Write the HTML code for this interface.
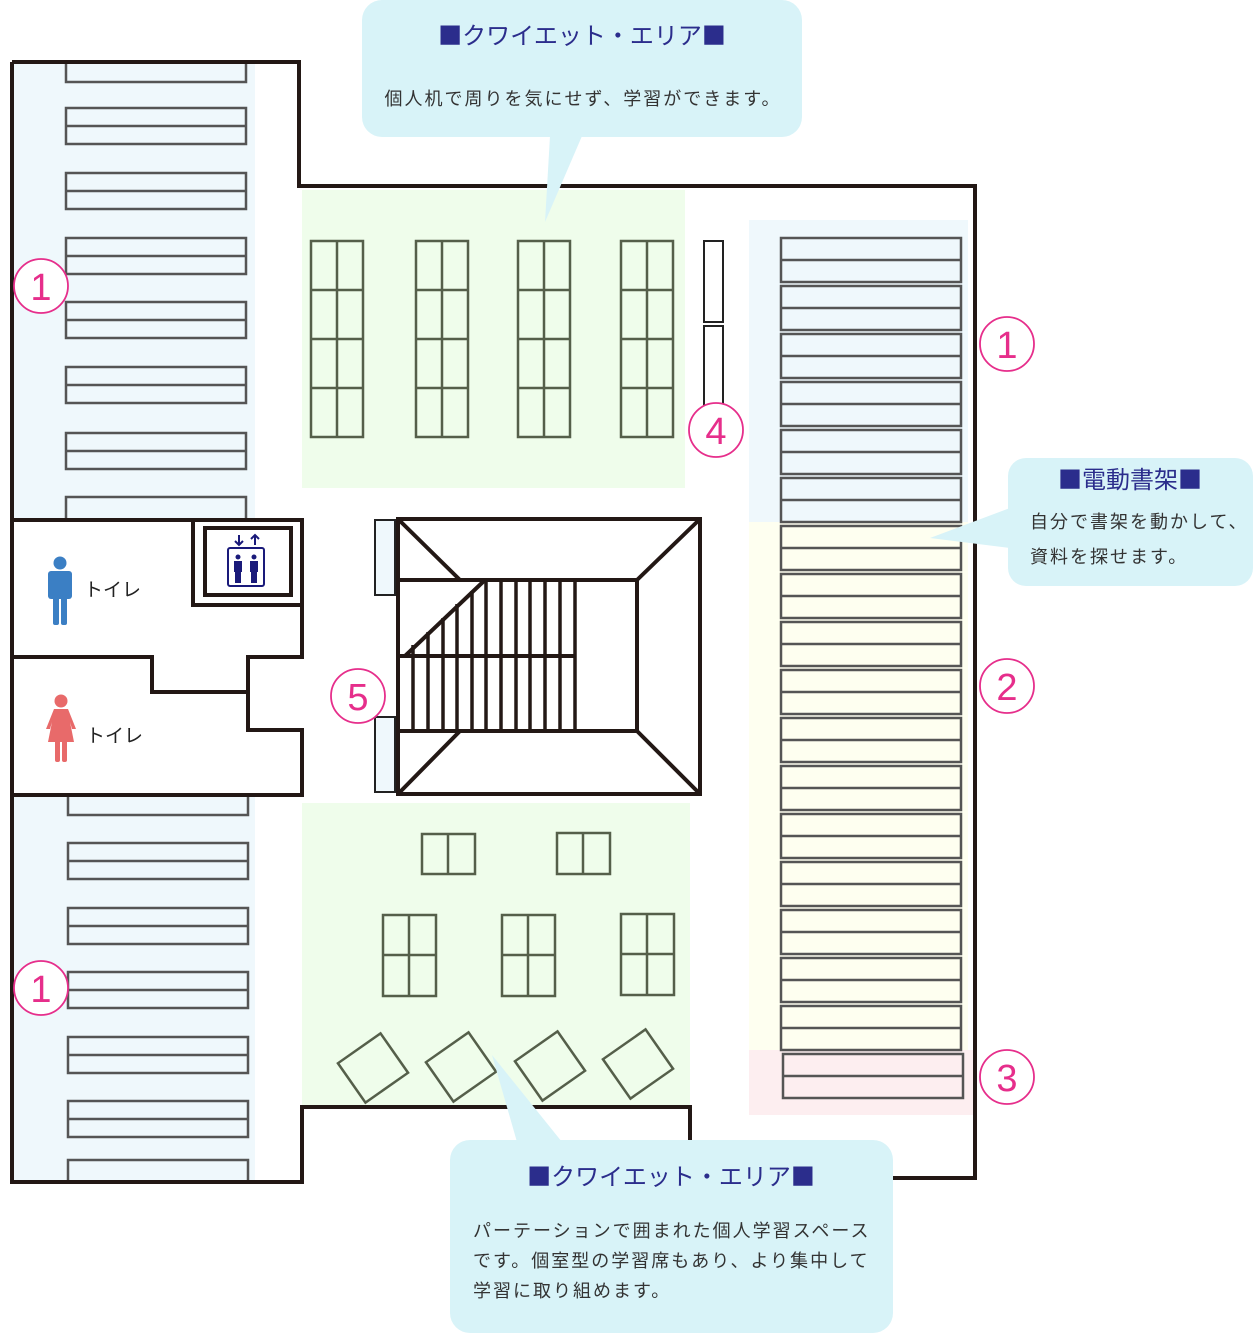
<!DOCTYPE html>
<html><head><meta charset="utf-8"><style>
body{margin:0;background:#fff}
svg{display:block}
text{font-family:"Liberation Sans","Noto Sans CJK JP",sans-serif}
.t{font-family:"Noto Sans CJK JP",sans-serif}
</style></head><body>
<svg width="1260" height="1340" viewBox="0 0 1260 1340" xmlns="http://www.w3.org/2000/svg">
<rect x="14" y="62" width="241" height="456" fill="#eff8fc"/>
<rect x="14" y="795" width="241" height="387" fill="#eff8fc"/>
<rect x="302" y="190" width="383" height="298" fill="#effdeb"/>
<rect x="302" y="803" width="388" height="304" fill="#effdeb"/>
<rect x="749" y="220" width="219" height="302" fill="#eff8fc"/>
<rect x="749" y="522" width="219" height="528" fill="#fefff0"/>
<rect x="749" y="1050" width="226" height="65" fill="#fdeef0"/>

<g fill="none" stroke="#555" stroke-width="2.5">
<path d="M66 62 V82 H246 V62"/>
<rect x="66" y="108" width="180" height="36"/><line x1="66" y1="126" x2="246" y2="126"/>
<rect x="66" y="173" width="180" height="36"/><line x1="66" y1="191" x2="246" y2="191"/>
<rect x="66" y="238" width="180" height="36"/><line x1="66" y1="256" x2="246" y2="256"/>
<rect x="66" y="302" width="180" height="36"/><line x1="66" y1="320" x2="246" y2="320"/>
<rect x="66" y="367" width="180" height="36"/><line x1="66" y1="385" x2="246" y2="385"/>
<rect x="66" y="433" width="180" height="36"/><line x1="66" y1="451" x2="246" y2="451"/>
<path d="M66 518 V497 H246 V518"/>
<path d="M68 797 V815 H248 V797"/>
<rect x="68" y="843" width="180" height="36"/><line x1="68" y1="861" x2="248" y2="861"/>
<rect x="68" y="908" width="180" height="36"/><line x1="68" y1="926" x2="248" y2="926"/>
<rect x="68" y="972" width="180" height="36"/><line x1="68" y1="990" x2="248" y2="990"/>
<rect x="68" y="1037" width="180" height="36"/><line x1="68" y1="1055" x2="248" y2="1055"/>
<rect x="68" y="1101" width="180" height="36"/><line x1="68" y1="1119" x2="248" y2="1119"/>
<path d="M68 1180 V1160 H248 V1180"/>
</g>

<g fill="none" stroke="#555" stroke-width="2.5">
<rect x="781" y="238" width="180" height="44"/><line x1="781" y1="260" x2="961" y2="260"/>
<rect x="781" y="286" width="180" height="44"/><line x1="781" y1="308" x2="961" y2="308"/>
<rect x="781" y="334" width="180" height="44"/><line x1="781" y1="356" x2="961" y2="356"/>
<rect x="781" y="382" width="180" height="44"/><line x1="781" y1="404" x2="961" y2="404"/>
<rect x="781" y="430" width="180" height="44"/><line x1="781" y1="452" x2="961" y2="452"/>
<rect x="781" y="478" width="180" height="44"/><line x1="781" y1="500" x2="961" y2="500"/>
<rect x="781" y="526" width="180" height="44"/><line x1="781" y1="548" x2="961" y2="548"/>
<rect x="781" y="574" width="180" height="44"/><line x1="781" y1="596" x2="961" y2="596"/>
<rect x="781" y="622" width="180" height="44"/><line x1="781" y1="644" x2="961" y2="644"/>
<rect x="781" y="670" width="180" height="44"/><line x1="781" y1="692" x2="961" y2="692"/>
<rect x="781" y="718" width="180" height="44"/><line x1="781" y1="740" x2="961" y2="740"/>
<rect x="781" y="766" width="180" height="44"/><line x1="781" y1="788" x2="961" y2="788"/>
<rect x="781" y="814" width="180" height="44"/><line x1="781" y1="836" x2="961" y2="836"/>
<rect x="781" y="862" width="180" height="44"/><line x1="781" y1="884" x2="961" y2="884"/>
<rect x="781" y="910" width="180" height="44"/><line x1="781" y1="932" x2="961" y2="932"/>
<rect x="781" y="958" width="180" height="44"/><line x1="781" y1="980" x2="961" y2="980"/>
<rect x="781" y="1006" width="180" height="44"/><line x1="781" y1="1028" x2="961" y2="1028"/>
<rect x="783" y="1054" width="180" height="44"/><line x1="783" y1="1076" x2="963" y2="1076"/>
</g>

<g fill="none" stroke="#555f4a" stroke-width="2.5">
<g id="d"><rect x="311" y="241" width="52" height="196"/><line x1="337" y1="241" x2="337" y2="437"/><line x1="311" y1="290" x2="363" y2="290"/><line x1="311" y1="339" x2="363" y2="339"/><line x1="311" y1="388" x2="363" y2="388"/></g>
<use href="#d" x="105"/><use href="#d" x="207"/><use href="#d" x="310"/>
<rect x="422" y="834" width="53" height="40"/><line x1="448" y1="834" x2="448" y2="874"/>
<rect x="557" y="833" width="53" height="41"/><line x1="583" y1="833" x2="583" y2="874"/>
<g id="q"><rect x="383" y="915" width="53" height="81"/><line x1="409" y1="915" x2="409" y2="996"/><line x1="383" y1="955" x2="436" y2="955"/></g>
<use href="#q" x="119"/><use href="#q" x="238" y="-1"/>
<rect x="-26" y="-24" width="52" height="48" transform="translate(373,1068) rotate(-35)"/>
<rect x="-26" y="-24" width="52" height="48" transform="translate(461,1067) rotate(-35)"/>
<rect x="-26" y="-24" width="52" height="48" transform="translate(550,1066) rotate(-35)"/>
<rect x="-26" y="-24" width="52" height="48" transform="translate(638,1064) rotate(-35)"/>
</g>
<g fill="none" stroke="#222" stroke-width="2">
<rect x="704" y="241" width="19" height="81"/><rect x="704" y="326" width="19" height="80"/>
</g>

<g fill="none" stroke="#231815" stroke-width="4">
<path d="M12 62 H299 V186 H975 V1178 H893"/>
<path d="M12 62 V1182 H302 V1107 H690 V1140"/>
<path d="M12 520 H302 V657 H248 V730 H302 V795 H12"/>
<path d="M12 657 H152 V692 H248"/>
<path d="M193 520 V605 H302"/>
<rect x="205" y="528" width="86" height="67"/>
</g>

<rect x="375" y="520" width="20" height="75" fill="#eff8fc" stroke="#222" stroke-width="2"/>
<rect x="375" y="717" width="20" height="75" fill="#eff8fc" stroke="#222" stroke-width="2"/>
<g fill="none" stroke="#231815" stroke-width="4">
<rect x="398" y="519" width="302" height="275"/>
<path d="M398 580 H637 V731 H398"/>
<path d="M398 519 L460 580 M700 519 L637 580 M700 794 L637 731 M398 794 L460 731"/>
<line x1="400" y1="656" x2="575" y2="656"/>
<line x1="405" y1="656" x2="485" y2="580"/>
</g>
<g stroke="#231815" stroke-width="3.5">
<line x1="413" y1="645" x2="413" y2="731"/>
<line x1="428" y1="632" x2="428" y2="731"/>
<line x1="443" y1="618" x2="443" y2="731"/>
<line x1="457" y1="604" x2="457" y2="731"/>
<line x1="472" y1="591" x2="472" y2="731"/>
<line x1="486" y1="580" x2="486" y2="731"/>
<line x1="501" y1="580" x2="501" y2="731"/>
<line x1="516" y1="580" x2="516" y2="731"/>
<line x1="530" y1="580" x2="530" y2="731"/>
<line x1="545" y1="580" x2="545" y2="731"/>
<line x1="560" y1="580" x2="560" y2="731"/>
<line x1="575" y1="580" x2="575" y2="731"/>
</g>

<g fill="none" stroke="#1a1a7a" stroke-width="2">
<rect x="228" y="548" width="36" height="38" rx="2"/>
<path d="M239 535 V545 M235 541 L239 545 L243 541 M255 545 V535 M251 539 L255 535 L259 539"/>
</g>
<g fill="#1a1a7a">
<circle cx="238" cy="557" r="2.5"/><rect x="234" y="561" width="8" height="11"/><rect x="235" y="571" width="6" height="12"/>
<circle cx="254" cy="557" r="2.5"/><rect x="250" y="561" width="8" height="11"/><rect x="251" y="571" width="6" height="12"/>
</g>

<g fill="#3b7fc4">
<circle cx="60" cy="563" r="6.5"/>
<rect x="48" y="571" width="24" height="28" rx="3"/>
<rect x="53" y="595" width="6" height="30" rx="2"/><rect x="61" y="595" width="6" height="30" rx="2"/>
</g>
<g fill="#e86a6a">
<circle cx="61" cy="701" r="6.5"/>
<path d="M54 709 H68 L76 729 H72 L70 722 L74 742 H48 L52 722 L50 729 H46 Z"/>
<rect x="55" y="740" width="5" height="22" rx="2"/><rect x="62" y="740" width="5" height="22" rx="2"/>
</g>
<text x="84" y="596" font-size="19" fill="#222">トイレ</text>
<text x="86" y="742" font-size="19" fill="#222">トイレ</text>

<g fill="#fff" stroke="#e62e8b" stroke-width="1.8">
<circle cx="41" cy="286" r="27"/><circle cx="1007" cy="344" r="27"/><circle cx="716" cy="430" r="27"/>
<circle cx="1007" cy="686" r="27"/><circle cx="1007" cy="1077" r="27"/><circle cx="358" cy="696" r="27"/><circle cx="41" cy="988" r="27"/>
</g>
<g fill="#e62e8b" font-size="38" text-anchor="middle">
<text x="41" y="300">1</text><text x="1007" y="358">1</text><text x="716" y="444">4</text>
<text x="1007" y="700">2</text><text x="1007" y="1091">3</text><text x="358" y="710">5</text><text x="41" y="1002">1</text>
</g>

<g fill="#d8f3f8">
<rect x="362" y="0" width="440" height="137" rx="20"/>
<path d="M550 136 L582 136 L545 222 Z"/>
<rect x="1008" y="458" width="245" height="128" rx="18"/>
<path d="M1010 508 L1010 548 L930 538 Z"/>
<rect x="450" y="1140" width="443" height="193" rx="20"/>
<path d="M517 1142 L562 1142 L492 1055 Z"/>
</g>
<g font-size="24" fill="#2b2d8c" text-anchor="middle" class="t">
<text class="t" x="582" y="44">■クワイエット・エリア■</text>
<text class="t" x="1130" y="488">■電動書架■</text>
<text class="t" x="671" y="1185">■クワイエット・エリア■</text>
</g>
<g font-size="18" fill="#333" letter-spacing="2">
<text x="583" y="105" text-anchor="middle">個人机で周りを気にせず、学習ができます。</text>
<text x="1030" y="528">自分で書架を動かして、</text>
<text x="1030" y="563">資料を探せます。</text>
<text x="473" y="1237">パーテーションで囲まれた個人学習スペース</text>
<text x="473" y="1267">です。個室型の学習席もあり、より集中して</text>
<text x="473" y="1297">学習に取り組めます。</text>
</g>
</svg>
</body></html>
